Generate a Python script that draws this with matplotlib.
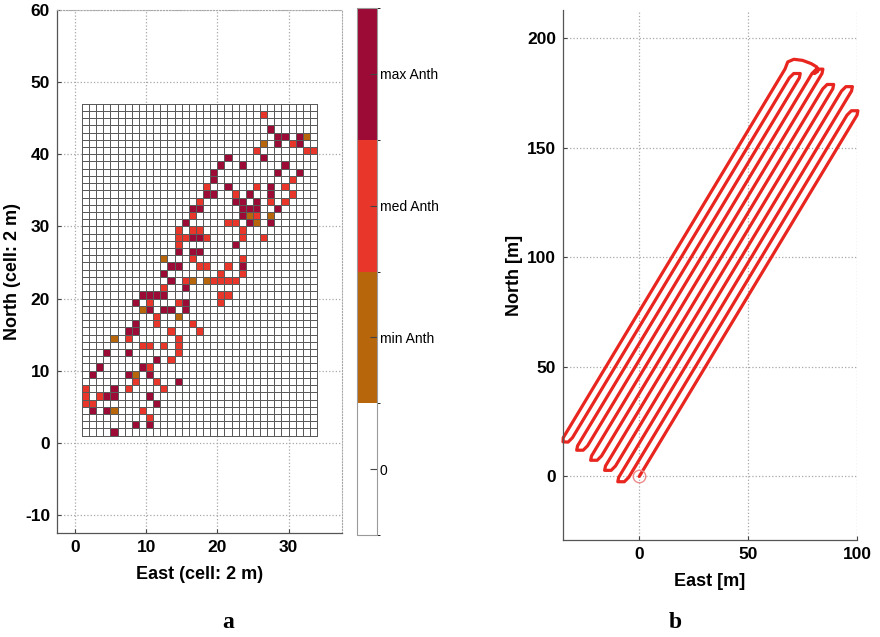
import numpy as np
import matplotlib
matplotlib.use('Agg')
import matplotlib.pyplot as plt
from matplotlib.colors import ListedColormap, BoundaryNorm

plt.rcParams['font.family'] = ['Liberation Sans', 'DejaVu Sans']
plt.rcParams['axes.unicode_minus'] = False

# ---- panel a: anthracnose grid (cell col, row) ----
n_cols, n_rows = 33, 46
max_cells = [(27, 43), (28, 42), (29, 42), (28, 41), (31, 42), (31, 41), (26, 39), (23, 38),
             (21, 39), (20, 38), (19, 37), (19, 36), (29, 38), (28, 37), (31, 37), (28, 32),
             (27, 35), (27, 34), (24, 34), (21, 35), (18, 34), (19, 34), (22, 33), (23, 33),
             (23, 32), (24, 32), (25, 33), (25, 32), (23, 31), (24, 30), (27, 30), (16, 32),
             (17, 32), (15, 30), (22, 27), (16, 28), (17, 28), (14, 26), (16, 26), (17, 26),
             (13, 24), (14, 24), (12, 23), (23, 24), (13, 22), (15, 21), (9, 20), (10, 20),
             (11, 20), (12, 20), (8, 19), (15, 19), (10, 18), (12, 18), (13, 18), (15, 18),
             (8, 16), (8, 15), (7, 15), (4, 12), (7, 12), (11, 11), (3, 10), (9, 10), (10, 9),
             (2, 9), (7, 9), (14, 8), (5, 7), (5, 6), (4, 6), (10, 6), (11, 5), (2, 4), (4, 4),
             (8, 2), (10, 2), (5, 1)]
med_cells = [(26, 45), (30, 41), (32, 40), (33, 40), (25, 40), (30, 36), (29, 35), (30, 34),
             (29, 33), (27, 33), (25, 35), (22, 34), (18, 35), (17, 33), (16, 31), (21, 30),
             (22, 30), (23, 29), (23, 28), (26, 28), (25, 31), (14, 29), (14, 28), (15, 28),
             (16, 29), (17, 29), (18, 28), (14, 27), (16, 25), (17, 24), (18, 24), (21, 24),
             (23, 25), (23, 23), (20, 23), (15, 22), (19, 22), (20, 22), (21, 22), (22, 22),
             (12, 21), (20, 20), (21, 20), (20, 19), (10, 19), (14, 19), (11, 17), (11, 16),
             (16, 16), (17, 15), (13, 15), (7, 14), (14, 14), (9, 13), (10, 13), (12, 13),
             (14, 13), (14, 12), (13, 11), (10, 10), (8, 8), (11, 8), (7, 7), (12, 7), (1, 7),
             (1, 6), (1, 5), (3, 6), (2, 5), (9, 4), (10, 3)]
min_cells = [(26, 41), (32, 42), (24, 31), (25, 30), (27, 31), (12, 25), (16, 22), (18, 22),
             (9, 18), (14, 17), (5, 14), (8, 9), (5, 4)]
level_names = ['0', 'min Anth', 'med Anth', 'max Anth']
level_colors = ['#ffffff', '#b8660c', '#e8372a', '#9c0a36']

# ---- panel b: tractor track (East, North in m) ----
track_east = [0, 100.0, 100.4, 97.4, 95.4,
              -4.84, -6.85, -9.85, -9.44,
              97.47, 97.88, 94.88, 92.87,
              -10.89, -12.9, -15.9, -15.49,
              88.87, 89.28, 86.28, 84.27,
              -17.3, -19.32, -22.32, -21.9,
              83.92, 84.33, 81.33, 79.32,
              -23.72, -25.73, -28.73, -28.32,
              73.5, 73.92, 70.92, 68.9,
              -30.67, -32.68, -35.0, -34.9,
              66.9, 68.2, 71.0, 75.0, 79.0, 81.5, 82.0, 80.5]
track_north = [0, 165, 167, 167, 165,
               -0.4, -2.4, -2.4, -0.4,
               176, 178, 178, 176,
               4.8, 2.8, 2.8, 4.8,
               177, 179, 179, 177,
               9.4, 7.4, 7.4, 9.4,
               184, 186, 186, 184,
               14, 12, 12, 14,
               182, 184, 184, 182,
               17.7, 15.7, 15.8, 17.7,
               186, 189.3, 190.5, 190, 188.5, 187, 185, 184]
start_east, start_north = [0], [0]

fig = plt.figure(figsize=(8.8, 6.37), dpi=100)

grid_col = '#a8a8a8'

# panel a
ax1 = fig.add_axes([0.0648, 0.1633, 0.3239, 0.821])
levels = np.zeros((n_rows, n_cols))
for lev, cells in [(1, min_cells), (2, med_cells), (3, max_cells)]:
    for c, r in cells:
        levels[r - 1, c - 1] = lev
cmap = ListedColormap(level_colors)
norm = BoundaryNorm([-0.5, 0.5, 1.5, 2.5, 3.5], 4)
mesh = ax1.pcolormesh(np.arange(1, n_cols + 2), np.arange(1, n_rows + 2), levels,
                      cmap=cmap, norm=norm, edgecolors='#5a5a5a', linewidth=0.55)
ax1.set_xlim(-2.5, 37.5)
ax1.set_ylim(-12.5, 60)
ax1.set_xticks([0, 10, 20, 30])
ax1.set_yticks(np.arange(-10, 61, 10))
ax1.grid(True, linestyle=':', color=grid_col, linewidth=0.9)
ax1.set_axisbelow(True)
ax1.set_xlabel('East (cell: 2 m)', fontsize=13, fontweight='bold', labelpad=8)
ax1.set_ylabel('North (cell: 2 m)', fontsize=13, fontweight='bold', labelpad=3)

# colorbar
cax = fig.add_axes([0.4057, 0.160, 0.0227, 0.8273])
cb = fig.colorbar(mesh, cax=cax, ticks=[0, 1, 2, 3])
cb.set_ticklabels(level_names)
cb.outline.set_edgecolor('#9a9a9a')
cb.outline.set_linewidth(0.8)
cax.tick_params(direction='in', length=5, width=0.8, color='#444444', labelsize=10, pad=2)

# panel b
ax2 = fig.add_axes([0.6398, 0.1523, 0.3341, 0.832])
ax2.plot(track_east, track_north, color='#e8251f', linewidth=2.3,
         solid_joinstyle='round', solid_capstyle='round', clip_on=False)
ax2.plot(start_east, start_north, 'o', mfc='none', mec='#f08a8a', ms=9, mew=1.0)
ax2.set_xlim(-35, 100)
ax2.set_ylim(-29, 213)
ax2.set_xticks([0, 50, 100])
ax2.set_yticks([0, 50, 100, 150, 200])
ax2.grid(True, linestyle=':', color=grid_col, linewidth=0.9)
ax2.set_axisbelow(True)
ax2.set_xlabel('East [m]', fontsize=13, fontweight='bold', labelpad=8)
ax2.set_ylabel('North [m]', fontsize=13, fontweight='bold', labelpad=3)

for ax in (ax1, ax2):
    ax.tick_params(direction='in', length=3, width=0.8, color='#444444', labelsize=12.5, pad=5)
    for lab in ax.get_xticklabels() + ax.get_yticklabels():
        lab.set_fontweight('bold')
    for side in ('left', 'bottom'):
        ax.spines[side].set_color('#555555')
        ax.spines[side].set_linewidth(0.9)
    ax.spines['top'].set_visible(False)
    ax.spines['right'].set_visible(False)

ax1.spines['right'].set_visible(True)
ax1.spines['right'].set_linestyle(':')
ax1.spines['right'].set_color(grid_col)
ax1.spines['top'].set_visible(True)
ax1.spines['top'].set_linestyle(':')
ax1.spines['top'].set_color(grid_col)

fig.text(228 / 880, 1 - 622 / 637, 'a', family='Liberation Serif', fontweight='bold',
         fontsize=17, ha='center', va='center')
fig.text(675 / 880, 1 - 622 / 637, 'b', family='Liberation Serif', fontweight='bold',
         fontsize=17, ha='center', va='center')

fig.savefig('out.png', dpi=100)
